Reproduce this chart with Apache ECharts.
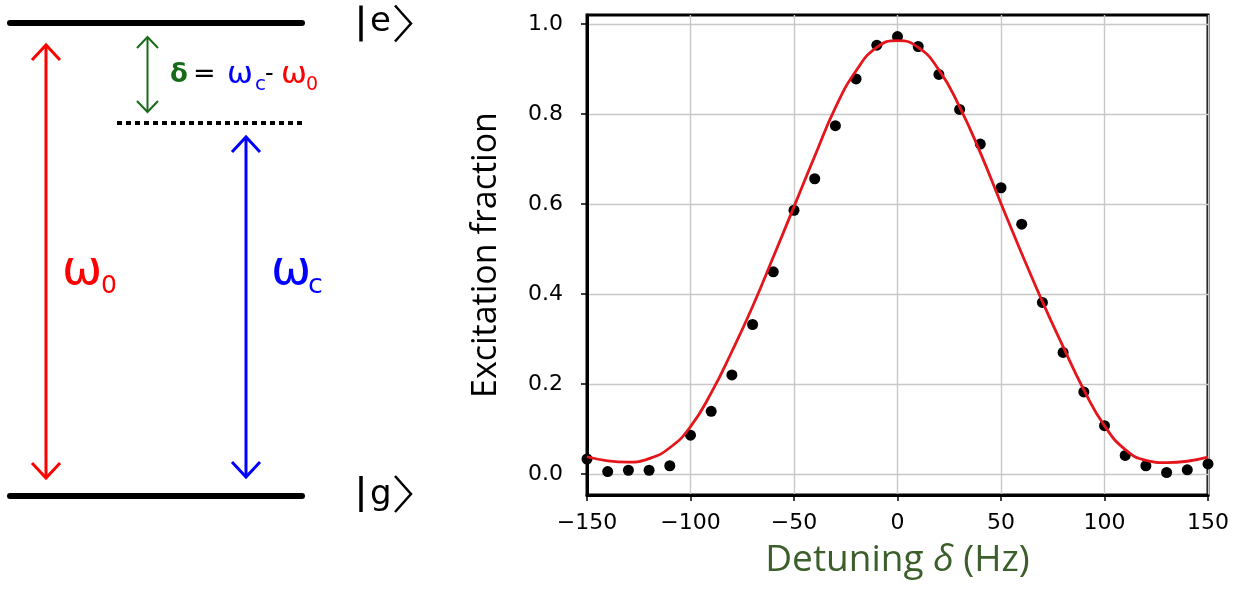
<!DOCTYPE html>
<html><head><meta charset="utf-8">
<script src="https://cdn.jsdelivr.net/npm/echarts@6/dist/echarts.min.js"></script>
<style>html,body{margin:0;padding:0;background:#fff}#c{width:1250px;height:592px}</style>
</head><body><div id="c"></div>
<script>
// ---- data ----
const detuning = [-150,-140,-130,-120,-110,-100,-90,-80,-70,-60,-50,-40,-30,-20,-10,0,10,20,30,40,50,60,70,80,90,100,110,120,130,140,150];
const measured = [0.033,0.005,0.008,0.008,0.018,0.086,0.139,0.22,0.332,0.449,0.586,0.656,0.774,0.878,0.953,0.972,0.95,0.888,0.81,0.733,0.636,0.555,0.381,0.27,0.182,0.107,0.041,0.018,0.003,0.009,0.022];
const fitCurve = [0.038,0.029,0.026,0.034,0.058,0.105,0.18,0.272,0.372,0.482,0.594,0.706,0.814,0.896,0.948,0.963,0.948,0.898,0.816,0.714,0.601,0.49,0.383,0.283,0.187,0.107,0.054,0.03,0.025,0.028,0.037];
const xTicks = [-150,-100,-50,0,50,100,150];
const yTicks = [0,0.2,0.4,0.6,0.8,1.0];

const chart = echarts.init(document.getElementById('c'), null, {renderer:'canvas'});
const F = 'DejaVu Sans';

function arrow(x, y1, y2, hw, hh, color, w){
  const st = {stroke: color, lineWidth: w, fill: null, lineJoin: 'miter', lineCap: 'butt'};
  return [
    {type:'line', shape:{x1:x, y1:y1+1, x2:x, y2:y2-1}, style: st, silent:true},
    {type:'polyline', shape:{points:[[x-hw,y1+hh],[x,y1],[x+hw,y1+hh]]}, style: st, silent:true},
    {type:'polyline', shape:{points:[[x-hw,y2-hh],[x,y2],[x+hw,y2-hh]]}, style: st, silent:true}
  ];
}
function txt(x, y, s, size, color, extra){
  return Object.assign({type:'text', x:x, y:y, silent:true,
    style: Object.assign({text:s, fontSize:size, fontFamily:F, fill:color, align:'left', verticalAlign:'middle'}, extra||{})});
}
function ket(y, letter){
  const st = {stroke:'#000', lineWidth:3.5, fill:null, lineJoin:'miter'};
  return [
    {type:'line', shape:{x1:361, y1:y-18, x2:361, y2:y+18}, style: st, silent:true},
    {type:'polyline', shape:{points:[[395, y-18],[411, y],[395, y+18]]}, style:{stroke:'#000', lineWidth:2.5, fill:null}, silent:true},
    txt(370, y + (letter === 'g' ? 1 : -1), letter, 34, '#000')
  ];
}

const graphics = [
  {type:'line', shape:{x1:10,y1:23,x2:302,y2:23}, style:{stroke:'#000', lineWidth:6, lineCap:'round'}, silent:true},
  {type:'line', shape:{x1:10,y1:496,x2:302,y2:496}, style:{stroke:'#000', lineWidth:6, lineCap:'round'}, silent:true},
  {type:'line', shape:{x1:117,y1:123,x2:304,y2:123}, style:{stroke:'#000', lineWidth:4, lineDash:[5,4]}, silent:true},
  ...arrow(46, 45, 478, 14, 15, '#ff0000', 3),
  ...arrow(246, 137, 477, 14, 15, '#0000ff', 3),
  ...arrow(147.5, 37, 112, 10.5, 11, '#176a17', 2),
  ...ket(23.5, 'e'),
  ...ket(494, 'g'),
  txt(170, 75, '\u03B4', 26, '#176a17', {fontWeight:'bold'}),
  txt(193, 75, '=', 27, '#000'),
  txt(227, 75, '\u03C9', 31, '#0000ff'),
  txt(255, 85, 'c', 20, '#0000ff'),
  txt(265, 75, '-', 24, '#000'),
  txt(281, 75, '\u03C9', 31, '#ff0000'),
  txt(306, 85, '0', 19, '#ff0000'),
  txt(62, 272, '\u03C9', 48, '#ff0000'),
  txt(101, 286, '0', 25, '#ff0000'),
  txt(271, 272, '\u03C9', 48, '#0000ff'),
  txt(308, 286, 'c', 27, '#0000ff')
];

chart.setOption({
  animation: false,
  backgroundColor: '#fff',
  grid: {left: 587, right: 42, top: 15, bottom: 97, show: true, borderColor: '#000', borderWidth: 3, backgroundColor: 'transparent'},
  xAxis: {
    type: 'value', min: -150, max: 150, interval: 50,
    name: 'Detuning {it|\u03B4} (Hz)', nameLocation: 'middle', nameGap: 47,
    nameTextStyle: {fontFamily: 'Open Sans', fontSize: 37, color: '#3b5e2a',
      rich: {it: {fontFamily: 'Open Sans', fontSize: 37, fontStyle: 'italic', color: '#3b5e2a'}}},
    axisLine: {show: true, onZero: false, lineStyle: {color: '#000', width: 3}},
    axisTick: {show: true, inside: false, length: 6, lineStyle: {color: '#000', width: 1.5}},
    axisLabel: {fontFamily: F, fontSize: 22, color: '#000', margin: 17,
      formatter: v => String(v).replace('-', '\u2212')},
    splitLine: {show: true, lineStyle: {color: '#c8c8c8', width: 1.4}}
  },
  yAxis: {
    type: 'value', min: -0.047, max: 1.02,
    name: 'Excitation fraction', nameLocation: 'middle', nameGap: 84,
    nameTextStyle: {fontFamily: 'Open Sans', fontSize: 34, color: '#000'},
    axisLine: {show: true, onZero: false, lineStyle: {color: '#000', width: 3}},
    axisTick: {show: true, length: 6, customValues: yTicks, lineStyle: {color: '#000', width: 1.5}},
    axisLabel: {fontFamily: F, fontSize: 22, color: '#000', margin: 24, customValues: yTicks,
      formatter: v => v.toFixed(1)},
    splitLine: {show: true, lineStyle: {color: '#c8c8c8', width: 1.4}}
  },
  series: [
    {type: 'scatter', data: detuning.map((d, i) => [d, measured[i]]), symbolSize: 11,
      itemStyle: {color: '#000', opacity: 1}, z: 2, clip: true},
    {type: 'line', data: detuning.map((d, i) => [d, fitCurve[i]]), smooth: 0.5, showSymbol: false,
      lineStyle: {color: '#e4161b', width: 2.8}, z: 3, clip: true}
  ],
  graphic: graphics
});
</script>
</body></html>
